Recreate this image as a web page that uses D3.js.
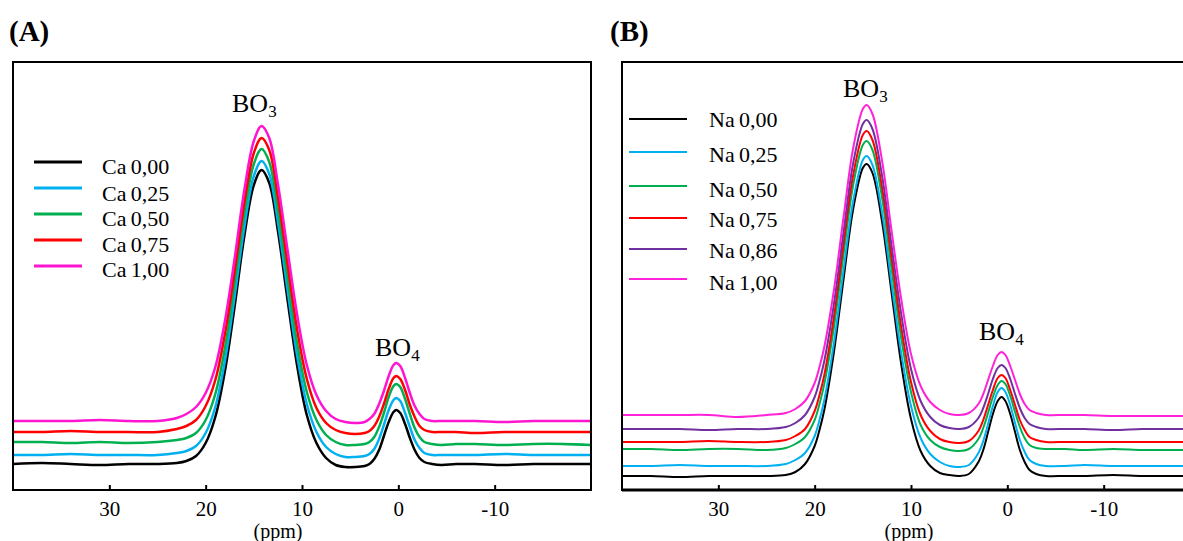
<!DOCTYPE html>
<html><head><meta charset="utf-8">
<script src="https://cdn.jsdelivr.net/npm/d3@7"></script>
<style>
body{margin:0;background:#fff}
svg{display:block}
text{font-family:"Liberation Serif","Times New Roman",serif;fill:#000}
</style>
</head><body>
<svg id="c" width="1183" height="541"></svg>
<script>
// ---------- data (intensity in arbitrary units, stacked traces) ----------
const ppmA = [40,37,34,31,28,25, 23,22,21,20,19,18,17,16,15, 14.2,13.4,12.5,11.5,10.5,9.5,8.5,7.5,6.5,5.5,4.5,3.5, 3,2.5,2,1.5,1,0.5,0.2, -0.2,-0.7,-1.2,-1.7,-2.2,-2.7,-3.5,-4.5, -6,-8,-11,-14,-17,-20];
const caBlack   = [26,27,26,25,26,26, 27,29,34,47,73,119,183,253,305, 320,307,259,190,124,75,47,32,25,23,23,24, 26,31,40,54,68,78,80, 77,66,52,40,32,28,26,25, 26,26,25,26,26,26];
const caBlue    = [35,35,36,35,35,35, 37,39,44,57,83,129,193,262,314, 329,316,268,200,134,86,58,43,36,33,33,34, 36,41,51,65,80,90,92, 89,77,63,50,42,37,35,35, 35,35,36,35,35,35];
const caGreen   = [48,48,47,48,47,48, 50,52,57,70,96,142,206,275,326, 341,328,280,212,146,98,70,55,48,45,45,46, 48,53,63,77,93,104,106, 103,91,76,62,53,48,46,45, 46,46,45,46,46,45];
const caRed     = [58,58,59,58,58,58, 61,64,70,84,110,156,218,286,337, 352,340,293,226,160,111,82,67,60,57,56,57, 59,64,73,86,101,112,114, 111,100,85,73,64,60,58,58, 58,57,58,58,58,58];
const caMagenta = [69,69,69,70,69,69, 72,76,83,97,123,169,231,299,349, 364,352,306,240,175,125,95,79,71,68,67,68, 71,76,86,99,114,125,127, 124,112,97,84,76,71,69,69, 69,69,68,69,69,69];
const caLabels = ["Ca\u20090,00","Ca\u20090,25","Ca\u20090,50","Ca\u20090,75","Ca\u20091,00"];
const caColors = ["#000000","#00b0f0","#00b050","#ff0000","#ff14d2"];

const ppmB = [40,37,34,31,28,25, 23,22,21,20,19.5,19,18,17,16,15, 14.6,14,13,12,11,10,9,8,7,6,5,4, 3,2.5,2,1.5,1,0.6,0.2, -0.3,-0.8,-1.3,-1.8,-2.3,-3,-4, -6,-8,-11,-14,-17,-20];
const naBlack   = [14,14,13,14,14,14, 15,18,26,44,60,80,138,211,281,322, 326,317,268,196,125,71,39,24,17,15,14,16, 28,40,58,76,89,93,89, 76,58,40,28,20,16,14, 14,14,15,14,14,14];
const naBlue    = [24,24,25,24,24,24, 26,30,37,54,70,90,147,220,289,330, 334,325,277,205,136,84,52,36,28,24,23,25, 37,49,66,84,98,102,98, 85,67,50,38,30,26,24, 24,25,24,24,24,24];
const naGreen   = [41,41,40,41,41,40, 42,46,53,70,86,106,163,236,305,345, 349,340,292,220,151,98,65,50,43,40,39,41, 51,62,77,93,105,109,106, 94,78,63,52,45,42,41, 41,40,41,40,40,40];
const naRed     = [48,48,48,49,48,48, 50,54,61,79,95,115,173,246,315,355, 359,350,302,231,162,108,75,59,51,48,47,49, 59,70,85,100,112,115,112, 100,85,70,60,53,50,48, 48,48,48,48,48,48];
const naPurple  = [61,61,61,60,61,61, 63,67,75,93,109,129,186,258,327,366, 370,361,314,243,175,121,89,73,65,62,61,63, 72,82,96,111,122,125,122, 111,96,82,72,66,63,61, 61,61,60,61,61,61];
const naMagenta = [75,75,75,75,73,75, 77,81,89,107,123,143,200,273,342,381, 385,376,329,258,190,136,104,88,80,76,75,77, 86,96,110,124,135,138,135, 124,110,96,86,80,77,75, 75,75,74,74,74,74];
const naLabels = ["Na\u20090,00","Na\u20090,25","Na\u20090,50","Na\u20090,75","Na\u20090,86","Na\u20091,00"];
const naColors = ["#000000","#00b0f0","#00b050","#ff0000","#7030a0","#ff22d8"];

const tickValues = [30,20,10,0,-10];
const tickLabels = ["30","20","10","0","-10"];
const ppmDomain = [40,-20];
const intensityDomain = [0,428];

// ---------- drawing ----------
const svg = d3.select("#c");
svg.append("rect").attr("width",1183).attr("height",541).attr("fill","#fff");
const defs = svg.append("defs");
const TOP = 62, BOT = 490;

function panel(cfg){
  const x = d3.scaleLinear().domain(ppmDomain).range(cfg.xr);
  const y = d3.scaleLinear().domain(intensityDomain).range([BOT,TOP]);
  const g = svg.append("g");
  defs.append("clipPath").attr("id",cfg.id).append("rect")
    .attr("x",cfg.xr[0]).attr("y",TOP).attr("width",cfg.xr[1]-cfg.xr[0]).attr("height",BOT-TOP);
  const line = d3.line().x((d,i)=>x(cfg.ppm[i])).y(d=>y(d)).curve(d3.curveCatmullRom.alpha(0.5));
  g.append("g").attr("clip-path",`url(#${cfg.id})`)
    .selectAll("path").data(cfg.series).join("path")
    .attr("d",d=>line(d)).attr("fill","none")
    .attr("stroke",(d,i)=>cfg.colors[i]).attr("stroke-width",cfg.lw)
    .attr("stroke-linejoin","round").attr("stroke-linecap","round");

  const ax = d3.axisBottom(x).tickValues(tickValues)
    .tickFormat((d,i)=>tickLabels[i]).tickSizeInner(-5).tickSizeOuter(0).tickPadding(11);
  const axg = g.append("g").attr("transform",`translate(0,${BOT})`).call(ax);
  axg.select(".domain").remove();
  axg.selectAll(".tick line").attr("stroke","#000").attr("stroke-width",2);
  axg.selectAll(".tick text").style("font-family",'"Liberation Serif","Times New Roman",serif')
    .style("font-size","21px").attr("fill","#000");

  // frame
  g.append("path").attr("d",cfg.frame).attr("fill","none").attr("stroke","#000").attr("stroke-width",2);
  if(cfg.bottomExtra) g.append("line").attr("x1",cfg.xr[0]).attr("x2",cfg.xr[1]).attr("y1",BOT).attr("y2",BOT)
      .attr("stroke","#000").attr("stroke-width",3);

  // legend
  const lg = g.append("g");
  cfg.labels.forEach((lab,i)=>{
    const ly = cfg.leg.y[i];
    lg.append("line").attr("x1",cfg.leg.x1).attr("x2",cfg.leg.x2).attr("y1",ly).attr("y2",ly)
      .attr("stroke",cfg.colors[i]).attr("stroke-width",cfg.leg.lw);
    lg.append("text").attr("x",cfg.leg.tx).attr("y",ly+cfg.leg.dy[i]).style("font-size","22px").text(lab);
  });

  // peak labels
  cfg.peaks.forEach(p=>{
    const t = g.append("text").attr("x",p.x).attr("y",p.y).style("font-size","26px").text("BO");
    t.append("tspan").attr("dy",5).style("font-size","17px").text(p.sub);
  });

  g.append("text").attr("x",cfg.ppmX).attr("y",cfg.ppmY).attr("text-anchor","middle").style("font-size","20px").text("(ppm)");
  g.append("text").attr("x",cfg.titleX).attr("y",41).style("font-size","29px").style("font-weight","bold").text(cfg.title);
}

panel({
  id:"clipA", xr:[13,591], ppm:ppmA,
  series:[caBlack,caBlue,caGreen,caRed,caMagenta], colors:caColors, labels:caLabels, lw:2.5,
  frame:"M13,62H591V490H13Z",
  leg:{x1:34,x2:82,tx:102,lw:3.2,y:[162,188,214,240,266],dy:[12,13,12,12,11]},
  peaks:[{x:232,y:112,sub:"3"},{x:375,y:356,sub:"4"}],
  ppmX:278, ppmY:538, title:"(A)", titleX:9
});
panel({
  id:"clipB", xr:[622,1200], ppm:ppmB,
  series:[naBlack,naBlue,naGreen,naRed,naPurple,naMagenta], colors:naColors, labels:naLabels, lw:2,
  frame:"M1200,62H622V490H1200", bottomExtra:true,
  leg:{x1:629,x2:687,tx:709,lw:2,y:[119,152,186,218,249,279],dy:[8,10,11,9,9,11]},
  peaks:[{x:843,y:97,sub:"3"},{x:979,y:340,sub:"4"}],
  ppmX:909, ppmY:538, title:"(B)", titleX:610
});
</script>
</body></html>
